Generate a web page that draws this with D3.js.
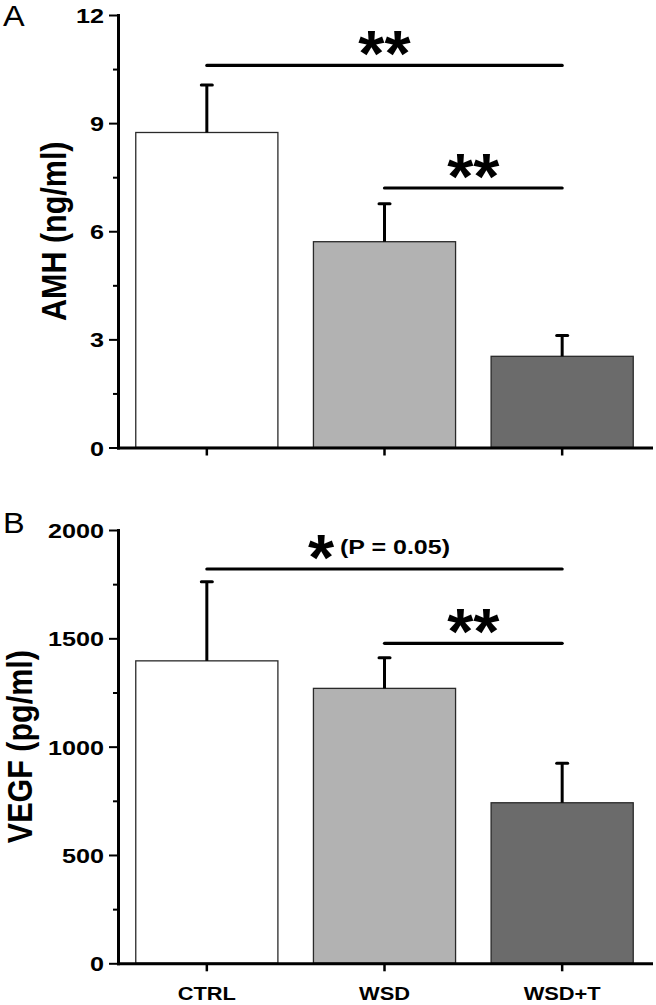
<!DOCTYPE html>
<html>
<head>
<meta charset="utf-8">
<script src="https://cdn.jsdelivr.net/npm/d3@7"></script>
<style>
  html, body { margin: 0; padding: 0; background: #fff; }
  svg { display: block; }
  text { font-family: "Liberation Sans", Arial, sans-serif; }
</style>
</head>
<body>
<svg id="chart" width="656" height="1005"></svg>
<script>
// ---------- data ----------
const categories = ["CTRL", "WSD", "WSD+T"];
const barFills = ["#ffffff", "#b2b2b2", "#6b6b6b"];

const amhMean = [8.74, 5.71, 2.53];
const amhErr = [1.32, 1.05, 0.58];
const amhTicks = [0, 3, 6, 9, 12];
const amhMinorTicks = [1.5, 4.5, 7.5, 10.5];
const amhSigFrom = [0, 1];
const amhSigTo = [2, 2];
const amhSigY = [10.6, 7.2];
const amhSigLabel = ["**", "**"];

const vegfMean = [1396, 1269, 741];
const vegfErr = [365, 141, 182];
const vegfTicks = [0, 500, 1000, 1500, 2000];
const vegfMinorTicks = [250, 750, 1250, 1750];
const vegfSigFrom = [0, 1];
const vegfSigTo = [2, 2];
const vegfSigY = [1820, 1477];
const vegfSigLabel = ["*", "**"];
const vegfSigNote = ["(P = 0.05)", ""];

// ---------- layout ----------
const svg = d3.select("#chart");
const xLeft = 118, xRight = 651;
const sx = 1.2; // horizontal stretch of text in the original

const x = d3.scaleBand().domain(categories).range([xLeft, xRight])
  .paddingInner(0.2).paddingOuter(0.1);

function panel(cfg) {
  const g = svg.append("g");
  const y = d3.scaleLinear().domain(cfg.domain).range([cfg.bottom, cfg.top]);

  // bars
  g.selectAll("rect.bar").data(cfg.mean).join("rect")
    .attr("class", "bar")
    .attr("x", (d, i) => x(categories[i]))
    .attr("width", x.bandwidth())
    .attr("y", d => y(d))
    .attr("height", d => y(0) - y(d))
    .attr("fill", (d, i) => barFills[i])
    .attr("stroke", "#2a2a2a")
    .attr("stroke-width", 1.3);

  // error bars (upper only)
  const cx = i => x(categories[i]) + x.bandwidth() / 2;
  g.selectAll("line.err").data(cfg.mean).join("line")
    .attr("class", "err")
    .attr("x1", (d, i) => cx(i)).attr("x2", (d, i) => cx(i))
    .attr("y1", d => y(d)).attr("y2", (d, i) => y(d + cfg.err[i]))
    .attr("stroke", "#000").attr("stroke-width", 3);
  g.selectAll("line.cap").data(cfg.mean).join("line")
    .attr("class", "cap")
    .attr("x1", (d, i) => cx(i) - 5.5).attr("x2", (d, i) => cx(i) + 5.5)
    .attr("y1", (d, i) => y(d + cfg.err[i])).attr("y2", (d, i) => y(d + cfg.err[i]))
    .attr("stroke", "#000").attr("stroke-width", 3).attr("stroke-linecap", "round");

  // minor y ticks
  const minor = g.append("g").attr("transform", `translate(${xLeft},0)`)
    .call(d3.axisLeft(y).tickValues(cfg.minor).tickSize(5).tickSizeOuter(0).tickFormat(""));
  minor.select(".domain").remove();
  minor.selectAll(".tick line").attr("stroke", "#000").attr("stroke-width", 2);

  // major y axis
  const yAxis = g.append("g").attr("transform", `translate(${xLeft},0)`)
    .call(d3.axisLeft(y).tickValues(cfg.ticks).tickSize(9).tickSizeOuter(0)
      .tickPadding(5).tickFormat(d3.format("d")));
  yAxis.select(".domain").attr("stroke", "#000").attr("stroke-width", 3).attr("stroke-linecap", "square");
  yAxis.selectAll(".tick line").attr("stroke", "#000").attr("stroke-width", 2);
  yAxis.selectAll(".tick text")
    .attr("x", -14 / sx)
    .attr("dy", "0.36em")
    .attr("transform", `scale(${sx},1)`)
    .style("font-family", "'Liberation Sans', Arial, sans-serif")
    .style("font-weight", "bold")
    .style("font-size", "21px")
    .attr("fill", "#000");

  // x axis
  const xAxis = g.append("g").attr("transform", `translate(0,${y(0)})`)
    .call(d3.axisBottom(x).tickSize(8).tickSizeOuter(0));
  xAxis.select(".domain").attr("stroke", "#000").attr("stroke-width", 3).attr("stroke-linecap", "square");
  xAxis.selectAll(".tick line").attr("stroke", "#000").attr("stroke-width", 2.5);
  if (cfg.showX) {
    xAxis.selectAll(".tick text")
      .attr("y", 36.5).attr("dy", null)
      .attr("transform", `scale(1.15,1)`)
      .style("font-family", "'Liberation Sans', Arial, sans-serif")
      .style("font-weight", "bold")
      .style("font-size", "19px")
      .attr("fill", "#000");
  } else {
    xAxis.selectAll(".tick text").remove();
  }

  // y title
  const midY = (cfg.top + cfg.bottom) / 2;
  g.append("text")
    .attr("transform", `translate(${cfg.titleX},${midY}) scale(1.12,1) rotate(-90)`)
    .attr("text-anchor", "middle")
    .style("font-weight", "bold")
    .style("font-size", "30.5px")
    .attr("fill", "#000")
    .text(cfg.title);

  // panel letter
  g.append("text")
    .attr("transform", `translate(3,${cfg.letterY}) scale(1.12,1)`)
    .style("font-size", "29px")
    .attr("fill", "#000")
    .text(cfg.letter);

  // significance brackets
  cfg.sigFrom.forEach((f, k) => {
    const x1 = cx(f), x2 = cx(cfg.sigTo[k]);
    const ly = y(cfg.sigY[k]);
    g.append("line")
      .attr("x1", x1).attr("x2", x2).attr("y1", ly).attr("y2", ly)
      .attr("stroke", "#000").attr("stroke-width", 3.2).attr("stroke-linecap", "round");
    const note = cfg.sigNote ? cfg.sigNote[k] : "";
    const starX = note ? 321 : (x1 + x2) / 2;
    g.append("text")
      .attr("transform", `translate(${starX},${ly + 11}) scale(1.05,1)`)
      .attr("text-anchor", "middle")
      .style("font-weight", "bold")
      .style("font-size", "64px")
      .attr("fill", "#000")
      .text(cfg.sigLabel[k]);
    if (note) {
      g.append("text")
        .attr("transform", `translate(340,${ly - 15}) scale(1.25,1)`)
        .style("font-weight", "bold")
        .style("font-size", "20px")
        .attr("fill", "#000")
        .text(note);
    }
  });
}

panel({
  domain: [0, 12], bottom: 447.5, top: 15,
  mean: amhMean, err: amhErr, ticks: amhTicks, minor: amhMinorTicks,
  title: "AMH (ng/ml)", titleX: 66, letter: "A", letterY: 26, showX: false,
  sigFrom: amhSigFrom, sigTo: amhSigTo, sigY: amhSigY, sigLabel: amhSigLabel
});

panel({
  domain: [0, 2000], bottom: 963.3, top: 530,
  mean: vegfMean, err: vegfErr, ticks: vegfTicks, minor: vegfMinorTicks,
  title: "VEGF (pg/ml)", titleX: 32, letter: "B", letterY: 533, showX: true,
  sigFrom: vegfSigFrom, sigTo: vegfSigTo, sigY: vegfSigY, sigLabel: vegfSigLabel,
  sigNote: vegfSigNote
});
</script>
</body>
</html>
